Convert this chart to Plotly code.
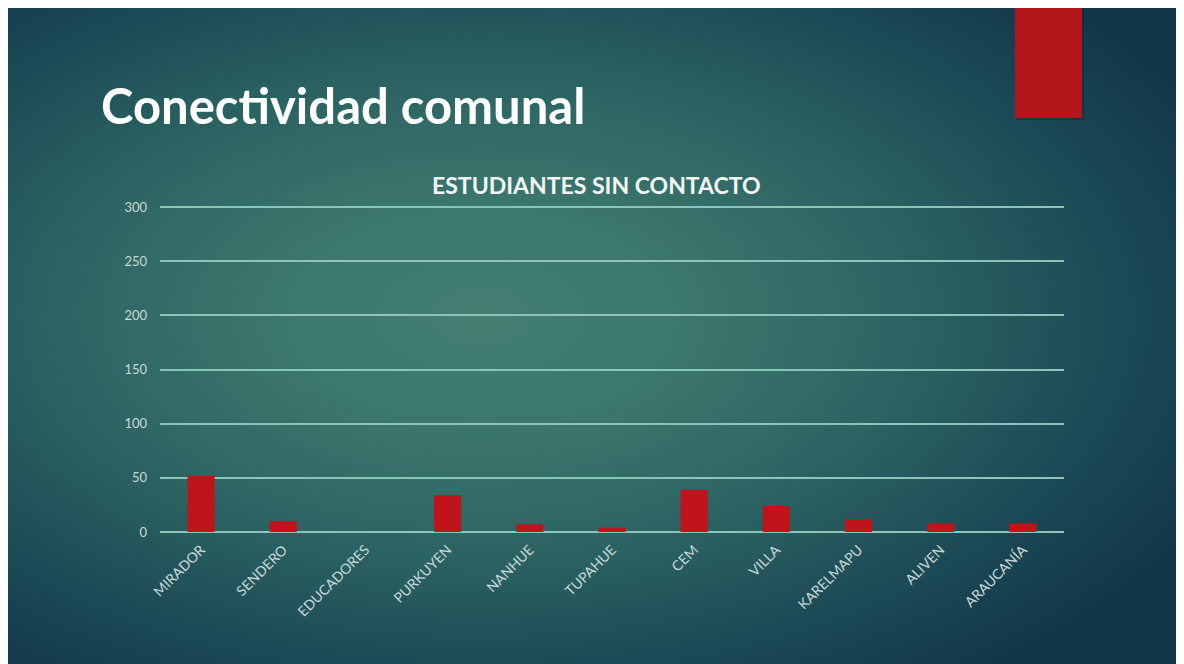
import base64
import plotly.graph_objects as go

# data
escuelas = ["MIRADOR", "SENDERO", "EDUCADORES", "PURKUYEN", "NANHUE", "TUPAHUE",
            "CEM", "VILLA", "KARELMAPU", "ALIVEN", "ARAUCANÍA"]
sin_contacto = [52, 10, 0, 34, 7, 4, 39, 24, 12, 8, 8]
y_ticks = [0, 50, 100, 150, 200, 250, 300]

W, H = 1184, 656
ML, MR, MT, MB = 152, 128, 198, 132
PW, PH = W - ML - MR, H - MT - MB

def px_to_paper(x, y):
    return (x - ML) / PW, (H - MB - y) / PH

# slide background: teal radial gradient as svg
svg = f"""<svg xmlns='http://www.w3.org/2000/svg' width='{W}' height='{H}' viewBox='0 0 {W} {H}' preserveAspectRatio='none'>
<defs><radialGradient id='g' cx='0.4' cy='0.47' r='0.68'>
<stop offset='0' stop-color='#437e71'/>
<stop offset='0.25' stop-color='#3c776d'/>
<stop offset='0.55' stop-color='#2a6262'/>
<stop offset='0.8' stop-color='#1b4955'/>
<stop offset='1' stop-color='#12374a'/>
</radialGradient></defs>
<rect width='{W}' height='{H}' fill='url(#g)'/></svg>"""
bg_src = "data:image/svg+xml;base64," + base64.b64encode(svg.encode()).decode()

fig = go.Figure()
fig.add_trace(go.Bar(
    x=escuelas, y=sin_contacto,
    marker=dict(color="#c0141a", line=dict(width=0)),
    width=0.33,
))

x0, y0 = px_to_paper(0, 0)
x1, y1 = px_to_paper(W, H)
fig.add_layout_image(dict(
    source=bg_src, xref="paper", yref="paper", x=x0, y=y0,
    sizex=x1 - x0, sizey=y0 - y1, sizing="stretch",
    xanchor="left", yanchor="top", layer="below",
))

# red accent tab at top right
rx0, ry0 = px_to_paper(1007, 0)
rx1, ry1 = px_to_paper(1074, 110)
fig.add_shape(type="rect", xref="paper", yref="paper", x0=rx0 + 0.002, x1=rx1 + 0.002,
              y0=ry0, y1=ry1 - 0.006, fillcolor="rgba(10,30,40,0.35)", line=dict(width=0))
fig.add_shape(type="rect", xref="paper", yref="paper", x0=rx0, x1=rx1, y0=ry0, y1=ry1,
              fillcolor="#b3161a", line=dict(width=0))

tx, ty = px_to_paper(91, 97)
fig.add_annotation(text="Conectividad comunal", xref="paper", yref="paper", x=tx, y=ty,
                   xanchor="left", yanchor="middle", showarrow=False,
                   font=dict(family="Lato", size=49, color="#ffffff", weight="bold"))
cx, cy = px_to_paper(588, 177)
fig.add_annotation(text="ESTUDIANTES SIN CONTACTO", xref="paper", yref="paper", x=cx, y=cy,
                   xanchor="center", yanchor="middle", showarrow=False,
                   font=dict(family="Lato", size=23, color="#f2f7f5", weight="bold"))

fig.update_layout(
    width=W, height=H,
    margin=dict(l=ML, r=MR, t=MT, b=MB),
    paper_bgcolor="#12374a", plot_bgcolor="rgba(0,0,0,0)",
    showlegend=False,
    font=dict(family="Lato", color="#cfdcd8"),
)
fig.update_xaxes(tickangle=-45, tickfont=dict(size=14, color="#cad9d5"),
                 showgrid=False, showline=False, ticks="", ticklabelstandoff=6)
fig.update_yaxes(range=[0, 301], tickvals=y_ticks, tickfont=dict(size=13, color="#cad9d5"),
                 gridcolor="#8cc4ba", gridwidth=2, zeroline=True, zerolinecolor="#8cc4ba",
                 zerolinewidth=2, showline=False, ticklabelstandoff=12)

fig.write_html("out.html")
